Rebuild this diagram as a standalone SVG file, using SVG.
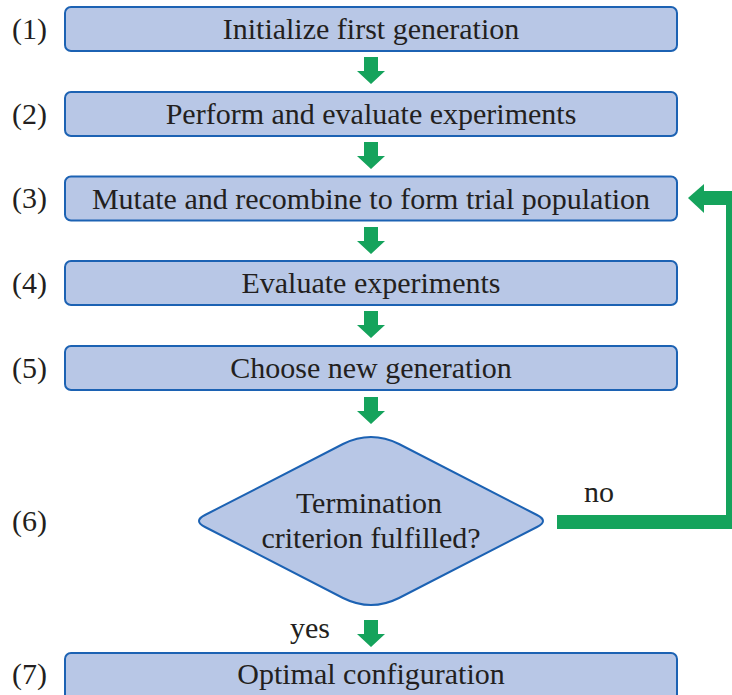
<svg xmlns="http://www.w3.org/2000/svg" width="732" height="695" viewBox="0 0 732 695">
<style>
.box{fill:#b8c7e6;stroke:#1c62b3;stroke-width:2}
.t{font-size:30px;fill:#231f20}
.c{text-anchor:middle}
.arr{fill:#15a35c}
.line{fill:none;stroke:#15a35c;stroke-width:14;stroke-linejoin:miter}
</style>
<defs>
<path id="down" d="M-7 0 H7 V14 H14 L0 27 L-14 14 H-7 Z"/>
</defs>
<rect width="732" height="695" fill="#ffffff"/>
<g font-family="Liberation Serif, Tinos, Times New Roman, DejaVu Serif, serif">
<g id="labels">
<text class="t" x="12" y="39">(1)</text>
<text class="t" x="12" y="124">(2)</text>
<text class="t" x="12" y="208">(3)</text>
<text class="t" x="12" y="293">(4)</text>
<text class="t" x="12" y="378">(5)</text>
<text class="t" x="12" y="531">(6)</text>
<text class="t" x="12" y="684">(7)</text>
</g>
<g id="n1"><rect class="box" x="65" y="7" width="612" height="44" rx="6"/><text class="t c" x="371" y="39">Initialize first generation</text></g>
<g id="n2"><rect class="box" x="65" y="92" width="612" height="44" rx="6"/><text class="t c" x="371" y="124">Perform and evaluate experiments</text></g>
<g id="n3"><rect class="box" x="65" y="176.5" width="612" height="44" rx="6"/><text class="t c" x="371" y="208.5">Mutate and recombine to form trial population</text></g>
<g id="n4"><rect class="box" x="65" y="261" width="612" height="44" rx="6"/><text class="t c" x="371" y="293">Evaluate experiments</text></g>
<g id="n5"><rect class="box" x="65" y="346" width="612" height="44" rx="6"/><text class="t c" x="371" y="378">Choose new generation</text></g>
<g id="n6"><path class="box" d="M343 444 Q371 430 399 444 L537 515 Q549 521 537 527 L399 598 Q371 612 343 598 L205 527 Q193 521 205 515 Z"/><text class="t c" x="369" y="513">Termination</text><text class="t c" x="371" y="548">criterion fulfilled?</text></g>
<g id="n7"><rect class="box" x="65" y="653" width="612" height="60" rx="6"/><text class="t c" x="371" y="684">Optimal configuration</text></g>
<g id="connectors">
<use href="#down" class="arr" x="371" y="57"/>
<use href="#down" class="arr" x="371" y="142"/>
<use href="#down" class="arr" x="371" y="227"/>
<use href="#down" class="arr" x="371" y="311"/>
<use href="#down" class="arr" x="371" y="397"/>
<use href="#down" class="arr" x="371" y="620"/>
<path class="line" d="M557 522 H733 V198 H702"/>
<polygon class="arr" points="688,198 704,184 704,213"/>
<text class="t" x="584" y="502">no</text>
<text class="t" x="290" y="638">yes</text>
</g>
</g>
</svg>
